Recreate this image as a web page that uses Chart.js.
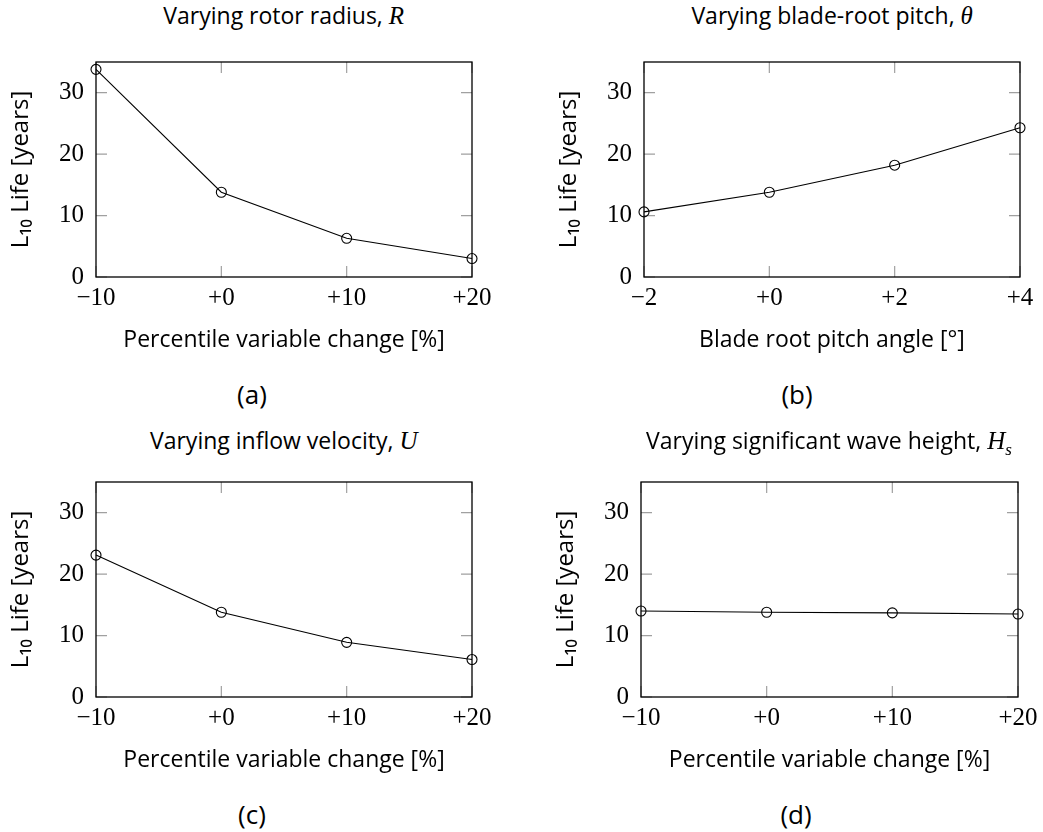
<!DOCTYPE html>
<html>
<head>
<meta charset="utf-8">
<script src="https://cdn.jsdelivr.net/npm/chart.js@4.4.1/dist/chart.umd.min.js"></script>
<style>
  body { margin: 0; background: #fff; }
  #fig { position: relative; width: 1043px; height: 832px; overflow: hidden; background: #fff; }
  canvas { position: absolute; }
  .title, .caption { position: absolute; text-align: center; color: #000; font-family: "Open Sans", sans-serif; white-space: nowrap; }
  .title { font-size: 23px; line-height: 28px; width: 600px; }
  .caption { font-size: 26px; line-height: 30px; width: 100px; }
  .m { font-family: "Liberation Serif", serif; font-style: italic; font-size: 25px; }
</style>
</head>
<body>
<div id="fig"></div>
<script>
// x values
const pctChange = [-10, 0, 10, 20];
const pitchAngle = [-2, 0, 2, 4];

// L10 life [years]
const lifeRadius = [33.8, 13.8, 6.3, 3.0];
const lifePitch = [10.6, 13.8, 18.2, 24.3];
const lifeInflow = [23.1, 13.8, 8.9, 6.1];
const lifeWave = [14.0, 13.8, 13.7, 13.5];

// tick labels
const pctTicks = [-10, 0, 10, 20];
const pitchTicks = [-2, 0, 2, 4];
const lifeTicks = [0, 10, 20, 30];
const lifeMax = 35;

const pctLabel = "Percentile variable change [%]";
const pitchLabel = "Blade root pitch angle [°]";
const lifeLabel = "L₁₀ Life [years]";

// plot boxes: left, top, right, bottom (page pixels)
const panels = [
    { x: pctChange, y: lifeRadius, xTicks: pctTicks, xLabel: pctLabel, box: [95.7, 62.3, 471.7, 277.3],
      title: 'Varying rotor radius, <span class="m">R</span>', titleY: 15, caption: "(a)", cap: [252, 394] },
    { x: pitchAngle, y: lifePitch, xTicks: pitchTicks, xLabel: pitchLabel, box: [644.3, 62.3, 1020, 277.3],
      title: 'Varying blade-root pitch, <span class="m">θ</span>', titleY: 15, caption: "(b)", cap: [797, 394] },
    { x: pctChange, y: lifeInflow, xTicks: pctTicks, xLabel: pctLabel, box: [95.7, 481.7, 471.7, 696.7],
      title: 'Varying inflow velocity, <span class="m">U</span>', titleY: 440, caption: "(c)", cap: [252, 814] },
    { x: pctChange, y: lifeWave, xTicks: pctTicks, xLabel: pctLabel, box: [640.7, 481.7, 1017.3, 696.7],
      title: 'Varying significant wave height, <span class="m">H<sub style="font-size:17px">s</sub></span>', titleY: 440, caption: "(d)", cap: [796, 814] },
];

const Y_AXIS_W = 96;
const X_AXIS_H = 80;
const PAD_TOP = 20;
const PAD_RIGHT = 22;

// frame box + little grey tick marks on the inside, like pgfplots
const frameTicks = {
    id: "frameTicks",
    beforeDatasetsDraw(chart) {
        const { ctx, chartArea: { left, right, top, bottom }, scales: { x, y } } = chart;
        ctx.save();
        ctx.strokeStyle = "#a0a0a0";
        ctx.lineWidth = 1.2;
        ctx.beginPath();
        x.ticks.forEach((t) => {
            const px = x.getPixelForValue(t.value);
            ctx.moveTo(px, bottom); ctx.lineTo(px, bottom - 11);
            ctx.moveTo(px, top); ctx.lineTo(px, top + 11);
        });
        y.ticks.forEach((t) => {
            const py = y.getPixelForValue(t.value);
            ctx.moveTo(left, py); ctx.lineTo(left + 11, py);
            ctx.moveTo(right, py); ctx.lineTo(right - 11, py);
        });
        ctx.stroke();
        ctx.strokeStyle = "#000";
        ctx.lineWidth = 1.3;
        ctx.strokeRect(left, top, right - left, bottom - top);
        ctx.restore();
    },
};

function signed(v) {
    if (v < 0) return "\u2212" + Math.abs(v);
    return "+" + v;
}

const fig = document.getElementById("fig");

panels.forEach((p) => {
    const [l, t, r, b] = p.box;
    const cLeft = l - Y_AXIS_W;
    const cTop = t - PAD_TOP;
    const w = Math.round(r - l + Y_AXIS_W + PAD_RIGHT);
    const h = Math.round(b - t + PAD_TOP + X_AXIS_H);

    const canvas = document.createElement("canvas");
    canvas.width = w;
    canvas.height = h;
    canvas.style.left = cLeft + "px";
    canvas.style.top = cTop + "px";
    fig.appendChild(canvas);

    const title = document.createElement("div");
    title.className = "title";
    title.innerHTML = p.title;
    title.style.left = ((l + r) / 2 - 300) + "px";
    title.style.top = (p.titleY - 14) + "px";
    fig.appendChild(title);

    const cap = document.createElement("div");
    cap.className = "caption";
    cap.textContent = p.caption;
    cap.style.left = (p.cap[0] - 50) + "px";
    cap.style.top = (p.cap[1] - 15) + "px";
    fig.appendChild(cap);

    new Chart(canvas.getContext("2d"), {
        type: "line",
        data: {
            datasets: [{
                data: p.x.map((xv, i) => ({ x: xv, y: p.y[i] })),
                borderColor: "#000",
                borderWidth: 1.1,
                pointRadius: 5,
                pointHoverRadius: 5,
                pointBackgroundColor: "rgba(0,0,0,0)",
                pointBorderColor: "#000",
                pointBorderWidth: 1.1,
                tension: 0,
                clip: false,
            }],
        },
        options: {
            responsive: false,
            animation: false,
            events: [],
            layout: { padding: { left: 0, top: PAD_TOP, right: PAD_RIGHT, bottom: 0 } },
            plugins: { legend: { display: false }, tooltip: { enabled: false } },
            scales: {
                x: {
                    type: "linear",
                    min: p.xTicks[0],
                    max: p.xTicks[p.xTicks.length - 1],
                    afterBuildTicks: (s) => { s.ticks = p.xTicks.map((v) => ({ value: v })); },
                    afterFit: (s) => { s.height = X_AXIS_H; s.paddingLeft = 0; s.paddingRight = 0; },
                    grid: { display: false, drawTicks: false },
                    border: { display: false },
                    ticks: {
                        color: "#000",
                        font: { family: "Liberation Serif", size: 25 },
                        padding: 6,
                        maxRotation: 0,
                        autoSkip: false,
                        callback: (v) => signed(v),
                    },
                    title: {
                        display: true,
                        text: p.xLabel,
                        color: "#000",
                        font: { family: "Open Sans", size: 23 },
                        padding: { top: 0, bottom: 3 },
                    },
                },
                y: {
                    min: 0,
                    max: lifeMax,
                    afterBuildTicks: (s) => { s.ticks = lifeTicks.map((v) => ({ value: v })); },
                    afterFit: (s) => { s.width = Y_AXIS_W; s.paddingTop = 0; s.paddingBottom = 0; },
                    grid: { display: false, drawTicks: false },
                    border: { display: false },
                    ticks: {
                        color: "#000",
                        font: { family: "Liberation Serif", size: 25 },
                        padding: 12,
                        autoSkip: false,
                    },
                    title: {
                        display: true,
                        text: lifeLabel,
                        color: "#000",
                        font: { family: "Open Sans", size: 24 },
                        padding: { top: 7, bottom: 0 },
                    },
                },
            },
        },
        plugins: [frameTicks],
    });
});
</script>
</body>
</html>
